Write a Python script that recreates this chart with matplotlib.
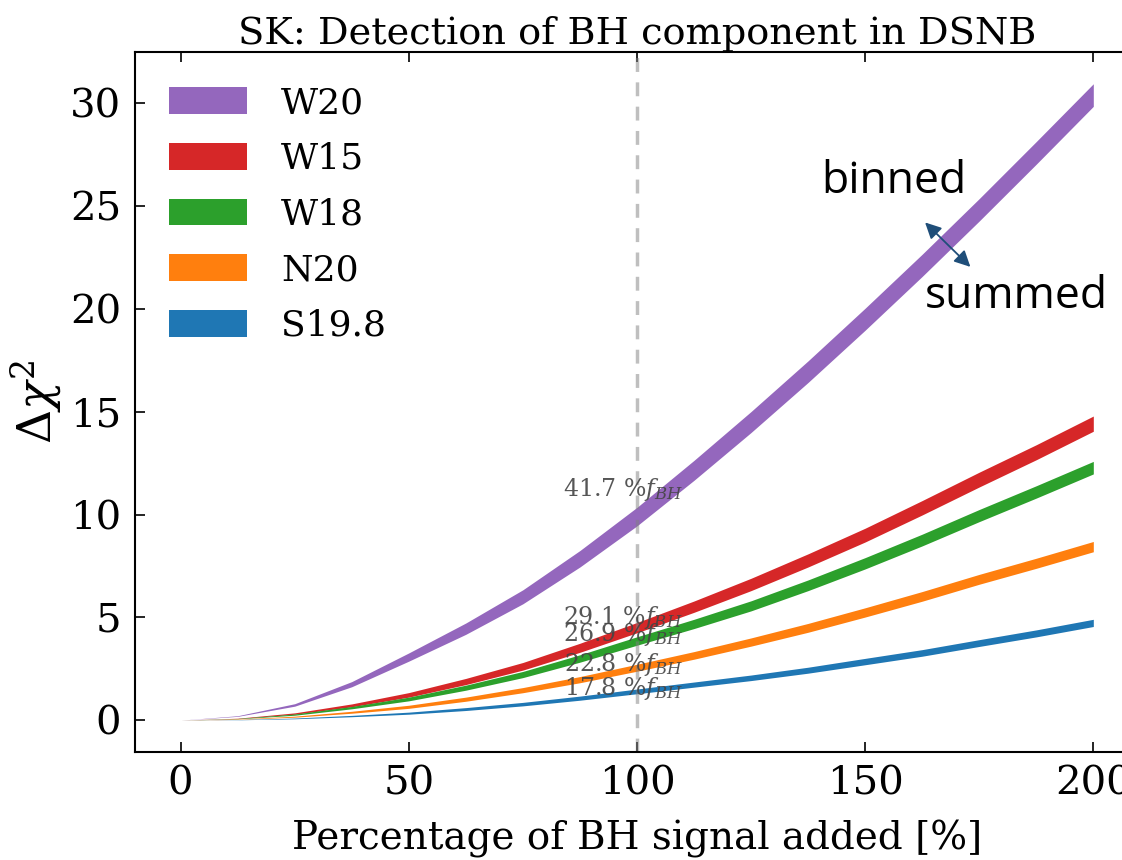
import matplotlib
matplotlib.use("Agg")
import numpy as np
import matplotlib.pyplot as plt

# percentage of BH signal added
pct = [0, 12.5, 25, 37.5, 50, 62.5, 75, 87.5, 100, 112.5, 125, 137.5,
       150, 162.5, 175, 187.5, 200]

# delta chi^2: middle of each band and the binned - summed spread
w20_mid = [0, 0.2, 0.74, 1.75, 3.07, 4.45, 6.0, 7.85, 9.9, 12.15, 14.5,
           16.95, 19.5, 22.12, 24.82, 27.59, 30.4]
w20_spread = [0, 0.03, 0.12, 0.25, 0.4, 0.55, 0.68, 0.8, 0.9, 0.97, 1.02,
              1.05, 1.07, 1.08, 1.09, 1.1, 1.1]
w15_mid = [0, 0.085, 0.32, 0.72, 1.23, 1.88, 2.62, 3.52, 4.5, 5.52, 6.6,
           7.77, 9.0, 10.33, 11.7, 13.03, 14.42]
w15_spread = [0, 0.02, 0.07, 0.14, 0.22, 0.3, 0.37, 0.44, 0.5, 0.55, 0.6,
              0.64, 0.67, 0.7, 0.72, 0.73, 0.74]
w18_mid = [0, 0.072, 0.27, 0.61, 1.03, 1.58, 2.22, 3.0, 3.85, 4.68, 5.56,
           6.56, 7.63, 8.76, 9.95, 11.1, 12.28]
w18_spread = [0, 0.017, 0.06, 0.115, 0.18, 0.245, 0.3, 0.36, 0.41, 0.45,
              0.49, 0.52, 0.55, 0.57, 0.59, 0.6, 0.61]
n20_mid = [0, 0.043, 0.17, 0.385, 0.65, 1.02, 1.46, 1.97, 2.55, 3.15, 3.8,
           4.49, 5.24, 6.02, 6.85, 7.63, 8.44]
n20_spread = [0, 0.014, 0.05, 0.095, 0.15, 0.2, 0.25, 0.3, 0.34, 0.37, 0.4,
              0.43, 0.45, 0.47, 0.48, 0.49, 0.5]
s198_mid = [0, 0.022, 0.085, 0.2, 0.34, 0.54, 0.78, 1.07, 1.4, 1.73, 2.06,
            2.43, 2.85, 3.27, 3.75, 4.22, 4.73]
s198_spread = [0, 0.01, 0.035, 0.065, 0.1, 0.14, 0.17, 0.2, 0.23, 0.25,
               0.27, 0.29, 0.31, 0.32, 0.33, 0.34, 0.35]

names = ["W20", "W15", "W18", "N20", "S19.8"]
colors = ["tab:purple", "tab:red", "tab:green", "tab:orange", "tab:blue"]
bands = [(w20_mid, w20_spread), (w15_mid, w15_spread),
         (w18_mid, w18_spread), (n20_mid, n20_spread),
         (s198_mid, s198_spread)]

# fraction labels at the 100% line
frac_text = ["41.7", "29.1", "26.9", "22.8", "17.8"]
frac_y = [11.2, 4.98, 4.15, 2.73, 1.56]

plt.rcParams["font.family"] = "DejaVu Serif"
plt.rcParams["mathtext.fontset"] = "dejavuserif"

fig = plt.figure(figsize=(11.22, 8.6), dpi=100)
ax = fig.add_axes([0.1203, 0.1256, 0.8948, 0.814])

for (mid, spread), c, n in zip(bands, colors, names):
    mid, spread = np.array(mid), np.array(spread)
    ax.fill_between(pct, mid - spread / 2, mid + spread / 2, color=c, lw=0,
                    label=n)

ax.axvline(100, color="grey", ls="--", lw=2.5, alpha=0.5, dashes=(4, 3))

for t, y in zip(frac_text, frac_y):
    ax.text(97, y, t + r" %$f_{BH}$", fontsize=17, color="#444444",
            alpha=0.9, ha="center", va="center")

ax.annotate("", xy=(162.7, 24.3), xytext=(173.5, 21.95),
            arrowprops=dict(arrowstyle="<|-|>", color="#1f4e79", lw=1.3,
                            mutation_scale=24))
ax.text(140.4, 26.2, "binned", family="Open Sans", fontsize=32, va="center")
ax.text(163.0, 20.6, "summed", family="Open Sans", fontsize=32, va="center")

ax.set_xticks([0, 50, 100, 150, 200])
ax.set_yticks([0, 5, 10, 15, 20, 25, 30])
ax.tick_params(direction="in", top=True, right=True, labelsize=29,
               length=7, width=1.2, pad=10)
for s in ax.spines.values():
    s.set_linewidth(1.5)

ax.set_xlabel("Percentage of BH signal added [%]", fontsize=28, labelpad=12)
ax.set_ylabel(r"$\Delta\chi^2$", fontsize=34)
ax.set_title("SK: Detection of BH component in DSNB", fontsize=27.5, pad=6)

ax.legend(loc="upper left", frameon=False, fontsize=26, handlelength=2.15,
          handleheight=0.75, labelspacing=0.6, handletextpad=0.95,
          borderaxespad=0.55)

fig.savefig("out.png", dpi=100)
